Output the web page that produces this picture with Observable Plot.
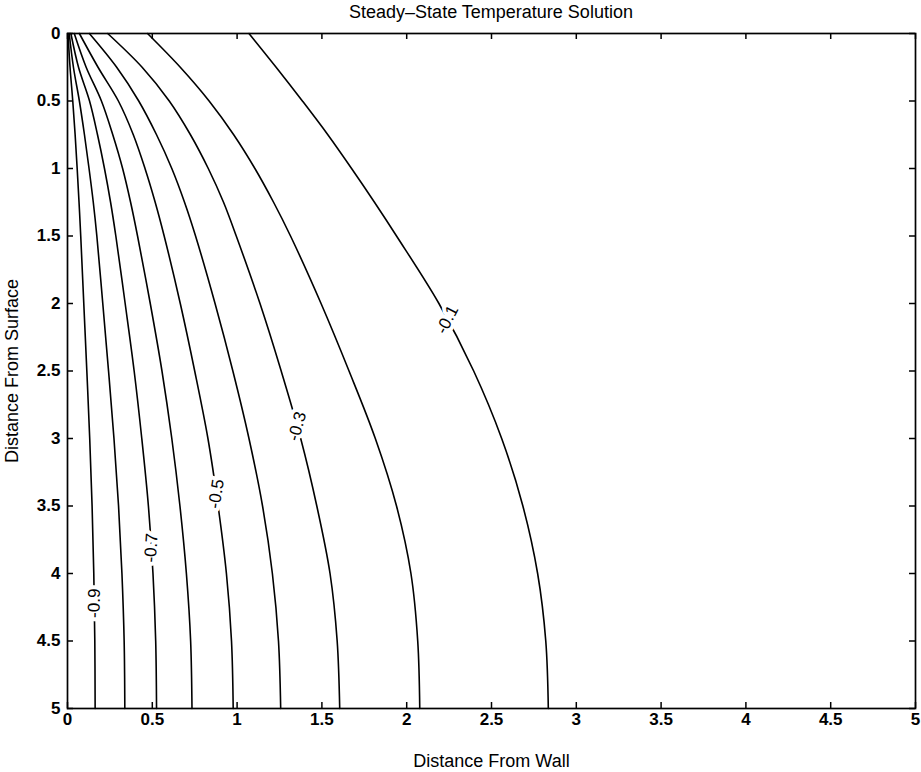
<!DOCTYPE html>
<html><head><meta charset="utf-8">
<script src="https://cdn.jsdelivr.net/npm/d3@7"></script>
<script src="https://cdn.jsdelivr.net/npm/@observablehq/plot@0.6"></script>
<style>
html,body{margin:0;padding:0;background:#fff;overflow:hidden;width:921px;height:772px;}
#title{position:absolute;left:67px;top:0;width:848px;height:25px;line-height:25px;text-align:center;
 font-family:"Liberation Sans",Arial,Helvetica,sans-serif;font-size:18px;color:#000;}
#chart{position:absolute;left:0;top:25px;}
#chart svg g[aria-label="x-axis tick label"], #chart svg g[aria-label="y-axis tick label"]{font-weight:bold;}
</style></head><body>
<div id="title">Steady–State Temperature Solution</div>
<div id="chart"></div>
<script>
// depth levels (Distance From Surface) at which each contour's x position was read
const depth = [0, 0.25, 0.5, 0.75, 1, 1.25, 1.5, 2, 2.5, 3, 3.5, 4, 4.5, 5];
// contour levels
const levels = [-0.9, -0.8, -0.7, -0.6, -0.5, -0.4, -0.3, -0.2, -0.1];
// x positions (Distance From Wall) of each contour at the depths above
const c_m09 = [0.003, 0.015, 0.031, 0.045, 0.057, 0.068, 0.078, 0.096, 0.114, 0.131, 0.145, 0.155, 0.161, 0.163];
const c_m08 = [0.010, 0.035, 0.070, 0.100, 0.127, 0.152, 0.173, 0.208, 0.242, 0.274, 0.301, 0.321, 0.334, 0.338];
const c_m07 = [0.020, 0.065, 0.130, 0.177, 0.218, 0.254, 0.285, 0.340, 0.393, 0.438, 0.477, 0.504, 0.520, 0.525];
const c_m06 = [0.040, 0.110, 0.200, 0.267, 0.325, 0.372, 0.413, 0.488, 0.557, 0.615, 0.663, 0.701, 0.726, 0.734];
const c_m05 = [0.070, 0.180, 0.300, 0.388, 0.457, 0.517, 0.570, 0.665, 0.750, 0.828, 0.888, 0.937, 0.967, 0.977];
const c_m04 = [0.129, 0.290, 0.420, 0.525, 0.615, 0.690, 0.755, 0.870, 0.975, 1.070, 1.150, 1.208, 1.244, 1.257];
const c_m03 = [0.237, 0.440, 0.600, 0.725, 0.830, 0.920, 0.995, 1.135, 1.260, 1.375, 1.470, 1.548, 1.590, 1.605];
const c_m02 = [0.472, 0.665, 0.835, 0.980, 1.105, 1.215, 1.315, 1.495, 1.660, 1.815, 1.940, 2.025, 2.065, 2.077];
const c_m01 = [1.070, 1.230, 1.385, 1.535, 1.675, 1.810, 1.940, 2.190, 2.395, 2.560, 2.685, 2.772, 2.820, 2.835];
const contourX = [c_m09, c_m08, c_m07, c_m06, c_m05, c_m04, c_m03, c_m02, c_m01];

// inline contour labels: which level, and the depth where the label sits
const labelLevels = [-0.9, -0.7, -0.5, -0.3, -0.1];
const labelDepth  = [4.22, 3.81, 3.41, 2.91, 2.12];

const xTicks = [0, 0.5, 1, 1.5, 2, 2.5, 3, 3.5, 4, 4.5, 5];
const yTicks = [0, 0.5, 1, 1.5, 2, 2.5, 3, 3.5, 4, 4.5, 5];

const W = 921, H = 747, mL = 67, mR = 6, mT = 8, mB = 64;
const innerW = W - mL - mR, innerH = H - mT - mB;
const pxX = innerW / 5, pxY = innerH / 5;

const rows = [];
levels.forEach((lv, i) => depth.forEach((d, j) => rows.push({level: lv, x: contourX[i][j], y: d})));

function interp(xs, d) {
  for (let j = 0; j < depth.length - 1; j++) {
    if (d >= depth[j] && d <= depth[j + 1]) {
      const t = (d - depth[j]) / (depth[j + 1] - depth[j]);
      return {x: xs[j] + t * (xs[j + 1] - xs[j]), slope: (xs[j + 1] - xs[j]) / (depth[j + 1] - depth[j])};
    }
  }
  return {x: xs[xs.length - 1], slope: 0};
}
const labels = labelLevels.map((lv, k) => {
  const i = levels.indexOf(lv);
  const p = interp(contourX[i], labelDepth[k]);
  const ang = Math.atan(p.slope * pxX / pxY) * 180 / Math.PI;
  return {text: String(lv), x: p.x, y: labelDepth[k], rotate: -90 + ang};
});

const chart = Plot.plot({
  width: W, height: H,
  marginLeft: mL, marginRight: mR, marginTop: mT, marginBottom: mB,
  x: {domain: [0, 5]},
  y: {domain: [0, 5], reverse: true},
  style: {fontFamily: "'Liberation Sans', Arial, Helvetica, sans-serif", fontSize: "17px", color: "#000", background: "#fff"},
  marks: [
    Plot.line(rows, {x: "x", y: "y", z: "level", curve: "catmull-rom", stroke: "#000", strokeWidth: 1.6}),
    Plot.text(labels, {x: "x", y: "y", text: "text", rotate: "rotate", fill: "#000", stroke: "#fff", strokeWidth: 8, fontSize: 17}),
    Plot.frame({stroke: "#000", strokeWidth: 1.7}),
    Plot.tickX(xTicks, {x: d => d, insetTop: innerH - 6, stroke: "#000", strokeWidth: 1.5}),
    Plot.tickX(xTicks, {x: d => d, insetBottom: innerH - 6, stroke: "#000", strokeWidth: 1.5}),
    Plot.tickY(yTicks, {y: d => d, insetRight: innerW - 6, stroke: "#000", strokeWidth: 1.5}),
    Plot.tickY(yTicks, {y: d => d, insetLeft: innerW - 6, stroke: "#000", strokeWidth: 1.5}),
    Plot.axisX({ticks: xTicks, tickSize: 0, tickPadding: 4, tickFormat: d => String(d), label: null, fontSize: 17}),
    Plot.axisY({ticks: yTicks, tickSize: 0, tickPadding: 7, tickFormat: d => String(d), label: null, fontSize: 17}),
    Plot.text(["Distance From Wall"], {frameAnchor: "bottom", textAnchor: "middle", lineAnchor: "middle", dy: 53, fontSize: 18, fill: "#000"}),
    Plot.text(["Distance From Surface"], {frameAnchor: "left", textAnchor: "middle", lineAnchor: "middle", dx: -55, rotate: -90, fontSize: 18, fill: "#000"})
  ]
});
document.getElementById("chart").appendChild(chart);
</script>
</body></html>
